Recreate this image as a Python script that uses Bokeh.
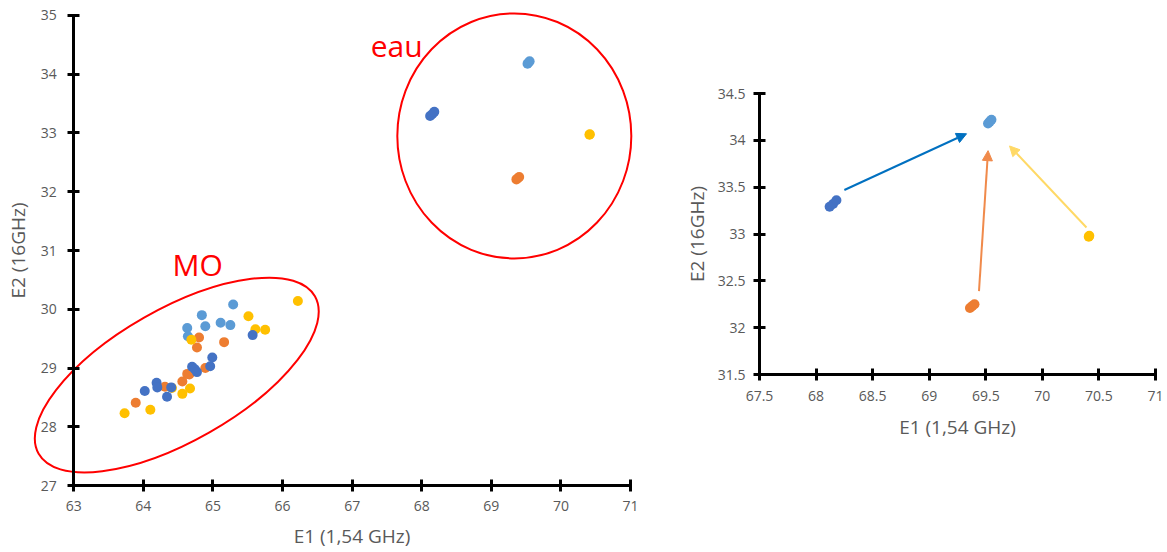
from bokeh.plotting import figure
from bokeh.layouts import row
from bokeh.models import FixedTicker, Arrow, NormalHead, NumeralTickFormatter, Range1d
from bokeh.core.properties import value
from bokeh.embed import file_html
from bokeh.resources import INLINE

# ---------------- data ----------------
# MO (organic matter) points, left chart
mo_lb_x = [65.29, 64.84, 65.11, 65.25, 64.89, 64.63, 64.64]
mo_lb_y = [30.08, 29.90, 29.77, 29.73, 29.71, 29.68, 29.54]
mo_or_x = [64.80, 64.77, 65.16, 64.89, 64.63, 64.66, 64.56, 64.31, 63.89]
mo_or_y = [29.52, 29.35, 29.44, 29.00, 28.90, 28.89, 28.77, 28.68, 28.41]
mo_ye_x = [66.22, 65.51, 65.61, 65.75, 64.69, 64.67, 64.56, 64.41, 64.10, 63.73]
mo_ye_y = [30.14, 29.88, 29.66, 29.65, 29.48, 28.65, 28.56, 28.66, 28.29, 28.23]
mo_db_x = [65.57, 64.99, 64.96, 64.70, 64.74, 64.77, 64.19, 64.20, 64.40, 64.34, 64.02]
mo_db_y = [29.56, 29.18, 29.03, 29.02, 28.98, 28.93, 28.75, 28.67, 28.67, 28.51, 28.61]

# water (eau) points
eau_lb_x = [69.52, 69.535, 69.55]
eau_lb_y = [34.18, 34.20, 34.22]
eau_or_x = [69.36, 69.38, 69.40]
eau_or_y = [32.21, 32.23, 32.25]
eau_ye_x = [70.41, 70.415]
eau_ye_y = [32.97, 32.98]
eau_db_x = [68.12, 68.15, 68.18]
eau_db_y = [33.29, 33.32, 33.36]

# arrows (right chart)
arrow_x0 = [68.25, 69.44, 70.39]
arrow_y0 = [33.47, 32.39, 33.07]
arrow_x1 = [69.33, 69.52, 69.71]
arrow_y1 = [34.07, 33.89, 33.94]
arrow_colors = ["#0070C0", "#F08A4B", "#FFD966"]

left_xticks = [63, 64, 65, 66, 67, 68, 69, 70, 71]
left_yticks = [27, 28, 29, 30, 31, 32, 33, 34, 35]
right_xticks = [67.5, 68, 68.5, 69, 69.5, 70, 70.5, 71]
right_yticks = [31.5, 32, 32.5, 33, 33.5, 34, 34.5]

C_LB, C_OR, C_YE, C_DB = "#5B9BD5", "#ED7D31", "#FFC000", "#4472C4"

# annotations on the left chart
mo_ellipse = dict(x=64.48, y=28.88)
eau_circle = dict(x=69.33, y=32.95)
labels_x = [64.78, 67.64]
labels_y = [30.77, 34.49]
labels_txt = ["MO", "eau"]

FONT = "Open Sans"
GRAY = "#595959"


def style_axis(ax, label_standoff, title_standoff):
    ax.axis_line_width = 3
    ax.axis_line_color = "black"
    ax.major_tick_line_width = 3
    ax.major_tick_line_color = "black"
    ax.major_tick_in = 6
    ax.major_tick_out = 6
    ax.minor_tick_line_color = None
    ax.major_label_text_font = FONT
    ax.major_label_text_font_size = "14px"
    ax.major_label_text_color = GRAY
    ax.major_label_standoff = label_standoff
    ax.axis_label_text_font = FONT
    ax.axis_label_text_font_size = "19px"
    ax.axis_label_text_color = GRAY
    ax.axis_label_text_font_style = "normal"
    ax.axis_label_standoff = title_standoff


def base_fig(**kw):
    p = figure(output_backend="svg", toolbar_location=None, frame_align=False, **kw)
    p.xgrid.visible = False
    p.ygrid.visible = False
    p.outline_line_color = None
    p.background_fill_color = "white"
    p.border_fill_color = "white"
    return p


# ---------------- left chart ----------------
p1 = base_fig(frame_width=645, frame_height=552,
              x_range=Range1d(61.947, 71.215), y_range=Range1d(25.86, 35.255),
              min_border_left=0, min_border_right=13,
              min_border_top=0, min_border_bottom=0,
              x_axis_label="E1 (1,54 GHz)", y_axis_label="E2 (16GHz)")
p1.xaxis.ticker = FixedTicker(ticks=left_xticks)
p1.xaxis.bounds = (63, 71)
p1.xaxis.fixed_location = 27
p1.yaxis.ticker = FixedTicker(ticks=left_yticks)
p1.yaxis.bounds = (27, 35)
p1.yaxis.fixed_location = 63
style_axis(p1.xaxis[0], 9, 9)
style_axis(p1.yaxis[0], 11, 6)

p1.ellipse(x=[mo_ellipse["x"]], y=[mo_ellipse["y"]], width=318, height=132,
           angle=0.518, width_units="screen", height_units="screen",
           fill_color=None, line_color="#FF0000", line_width=2)
p1.ellipse(x=[eau_circle["x"]], y=[eau_circle["y"]], width=234, height=245,
           width_units="screen", height_units="screen",
           fill_color=None, line_color="#FF0000", line_width=2)

for xs, ys, c in [(mo_lb_x + eau_lb_x, mo_lb_y + eau_lb_y, C_LB),
                  (mo_or_x + eau_or_x, mo_or_y + eau_or_y, C_OR),
                  (mo_ye_x + eau_ye_x, mo_ye_y + eau_ye_y, C_YE),
                  (mo_db_x + eau_db_x, mo_db_y + eau_db_y, C_DB)]:
    p1.scatter(xs, ys, size=10, color=c, line_color=None)

p1.text(x=labels_x, y=labels_y, text=labels_txt, text_font=value(FONT),
        text_font_size="30px", text_color="#FF0000", text_align="center",
        text_baseline="alphabetic")

# ---------------- right chart ----------------
p2 = base_fig(frame_width=396, frame_height=281,
              x_range=Range1d(67.5, 71), y_range=Range1d(31.5, 34.5),
              min_border_left=101, min_border_right=12,
              min_border_top=93, min_border_bottom=178,
              x_axis_label="E1 (1,54 GHz)", y_axis_label="E2 (16GHz)")
p2.xaxis.ticker = FixedTicker(ticks=right_xticks)
p2.yaxis.ticker = FixedTicker(ticks=right_yticks)
p2.xaxis.formatter = NumeralTickFormatter(format="0.[0]")
p2.yaxis.formatter = NumeralTickFormatter(format="0.[0]")
style_axis(p2.xaxis[0], 10, 10)
style_axis(p2.yaxis[0], 8, 5)

for xs, ys, c in [(eau_lb_x, eau_lb_y, C_LB), (eau_or_x, eau_or_y, C_OR),
                  (eau_ye_x, eau_ye_y, C_YE), (eau_db_x, eau_db_y, C_DB)]:
    p2.scatter(xs, ys, size=10, color=c, line_color=None)

for x0, y0, x1, y1, c in zip(arrow_x0, arrow_y0, arrow_x1, arrow_y1, arrow_colors):
    p2.add_layout(Arrow(end=NormalHead(size=10, fill_color=c, line_color=c),
                        x_start=x0, y_start=y0, x_end=x1, y_end=y1,
                        line_color=c, line_width=2))

layout = row(p1, p2)
open("out.html", "w").write(file_html(layout, INLINE))
